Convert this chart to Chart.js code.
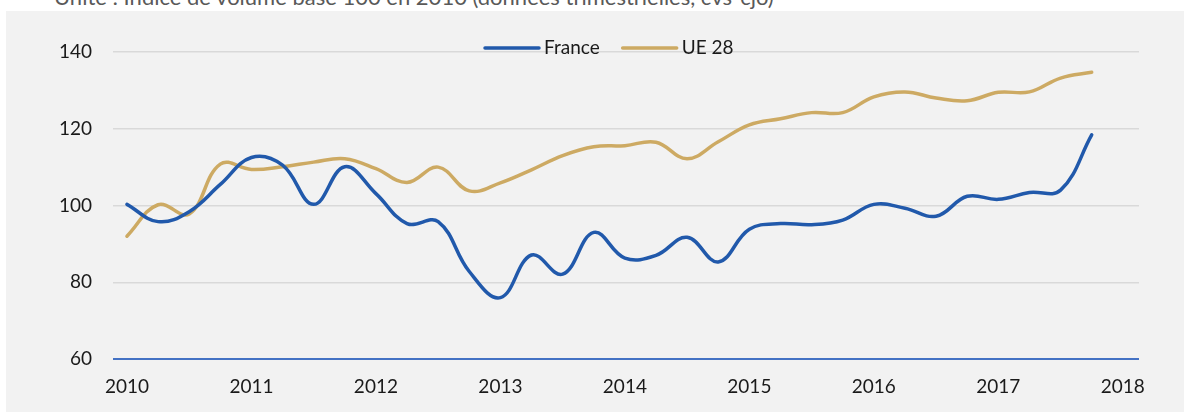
<!DOCTYPE html>
<html>
<head>
<meta charset="utf-8">
<script src="https://cdn.jsdelivr.net/npm/chart.js@4.4.1/dist/chart.umd.min.js"></script>
<style>
	html, body { margin:0; padding:0; background:#fff; }
	body { width:1184px; height:412px; position:relative; overflow:hidden; }
	#titre { position:absolute; left:54px; top:-17px; font-family:Lato, sans-serif; font-size:22px; color:#595959; white-space:nowrap; }
	#fond { position:absolute; left:6px; top:11px; width:1178px; height:401px; background:#f2f2f2; }
	#wrap { position:absolute; left:0; top:0; width:1184px; height:412px; }
</style>
</head>
<body>
<div id="titre">Unité : Indice de volume base 100 en 2010 (données trimestrielles, cvs-cjo)</div>
<div id="fond"></div>
<div id="wrap"><canvas id="indiceChart" width="1184" height="412"></canvas></div>
<script>
// trimestres 2010T1 -> 2017T4
var trimestres = ['2010T1','2010T2','2010T3','2010T4','2011T1','2011T2','2011T3','2011T4',
	'2012T1','2012T2','2012T3','2012T4','2013T1','2013T2','2013T3','2013T4',
	'2014T1','2014T2','2014T3','2014T4','2015T1','2015T2','2015T3','2015T4',
	'2016T1','2016T2','2016T3','2016T4','2017T1','2017T2','2017T3','2017T4'];

var franceList = [100.3, 95.8, 98.4, 105.5, 112.5, 110.5, 100.3, 110.1,
	103.1, 95.3, 95.8, 82.8, 76.0, 87.1, 82.1, 93.0,
	86.3, 87.0, 91.7, 85.3, 93.8, 95.3, 95.0, 96.2,
	100.3, 99.3, 97.2, 102.4, 101.6, 103.4, 104.0, 118.4];

var ue28List = [92.0, 100.2, 97.8, 110.8, 109.4, 110.1, 111.3, 112.2,
	109.6, 106.0, 110.0, 103.8, 105.9, 109.3, 113.0, 115.3,
	115.6, 116.5, 112.2, 116.6, 121.0, 122.6, 124.2, 124.2,
	128.3, 129.6, 128.0, 127.3, 129.5, 129.6, 133.2, 134.7];

var yTicks = [60, 80, 100, 120, 140];
var xAnnees = [2010, 2011, 2012, 2013, 2014, 2015, 2016, 2017, 2018];

var bleu = '#2159ab';
var ocre = '#cdaa63';
var police = 'Lato, sans-serif';

// trimestre -> position sur l'axe des annees
function toPoints(list) {
	var pts = [];
	for (var i = 0; i < trimestres.length; i++) {
		var an = parseInt(trimestres[i].substr(0, 4));
		var q = parseInt(trimestres[i].substr(5, 1));
		pts.push({ x : an + (q - 1) / 4, y : list[i] });
	}
	return pts;
}

// legende dessinee a la main (au dessus de la zone de trace)
var legendePlugin = {
	id : 'legende',
	afterDraw : function(chart) {
		var ctx = chart.ctx;
		var x = 485, y = 48;
		ctx.save();
		ctx.font = '19px ' + police;
		ctx.textBaseline = 'middle';
		chart.data.datasets.forEach(function(ds) {
			ctx.strokeStyle = ds.borderColor;
			ctx.lineWidth = 3.5;
			ctx.lineCap = 'round';
			ctx.beginPath();
			ctx.moveTo(x, y);
			ctx.lineTo(x + 54, y);
			ctx.stroke();
			ctx.fillStyle = '#1a1a1a';
			ctx.fillText(ds.label, x + 59, y);
			x += 59 + ctx.measureText(ds.label).width + 23;
		});
		ctx.restore();
	}
};

var ctx = document.getElementById('indiceChart').getContext('2d');
var indiceChart = new Chart(ctx, {
	type : 'line',
	data : {
		datasets : [ {
			label : 'France',
			data : toPoints(franceList),
			borderColor : bleu,
			backgroundColor : bleu,
			borderWidth : 3.5,
			borderCapStyle : 'round',
			pointRadius : 0,
			tension : 0.4,
			fill : false
		}, {
			label : 'UE 28',
			data : toPoints(ue28List),
			borderColor : ocre,
			backgroundColor : ocre,
			borderWidth : 3.5,
			borderCapStyle : 'round',
			pointRadius : 0,
			tension : 0.4,
			fill : false
		} ]
	},
	options : {
		responsive : false,
		animation : false,
		layout : { padding : { left : 0, right : 45, top : 52, bottom : 5 } },
		plugins : {
			legend : { display : false },
			tooltip : { enabled : false }
		},
		scales : {
			x : {
				type : 'linear',
				min : 2009.888,
				max : 2018.13,
				afterFit : function(scale) { scale.height = 48; },
				afterBuildTicks : function(scale) {
					scale.ticks = xAnnees.map(function(v) { return { value : v }; });
				},
				grid : { display : false, drawTicks : false },
				border : { display : false },
				ticks : {
					padding : 16,
					color : '#1a1a1a',
					font : { family : police, size : 19 },
					callback : function(v) { return String(v); }
				}
			},
			y : {
				min : 60,
				max : 140,
				afterFit : function(scale) { scale.width = 113; },
				afterBuildTicks : function(scale) {
					scale.ticks = yTicks.map(function(v) { return { value : v }; });
				},
				grid : {
					drawTicks : false,
					color : function(c) { return c.tick && c.tick.value == 60 ? '#4472c4' : '#d9d9d9'; },
					lineWidth : function(c) { return c.tick && c.tick.value == 60 ? 2 : 1.5; }
				},
				border : { display : false },
				ticks : {
					padding : 21,
					color : '#1a1a1a',
					font : { family : police, size : 19 }
				}
			}
		}
	},
	plugins : [ legendePlugin ]
});
</script>
</body>
</html>
